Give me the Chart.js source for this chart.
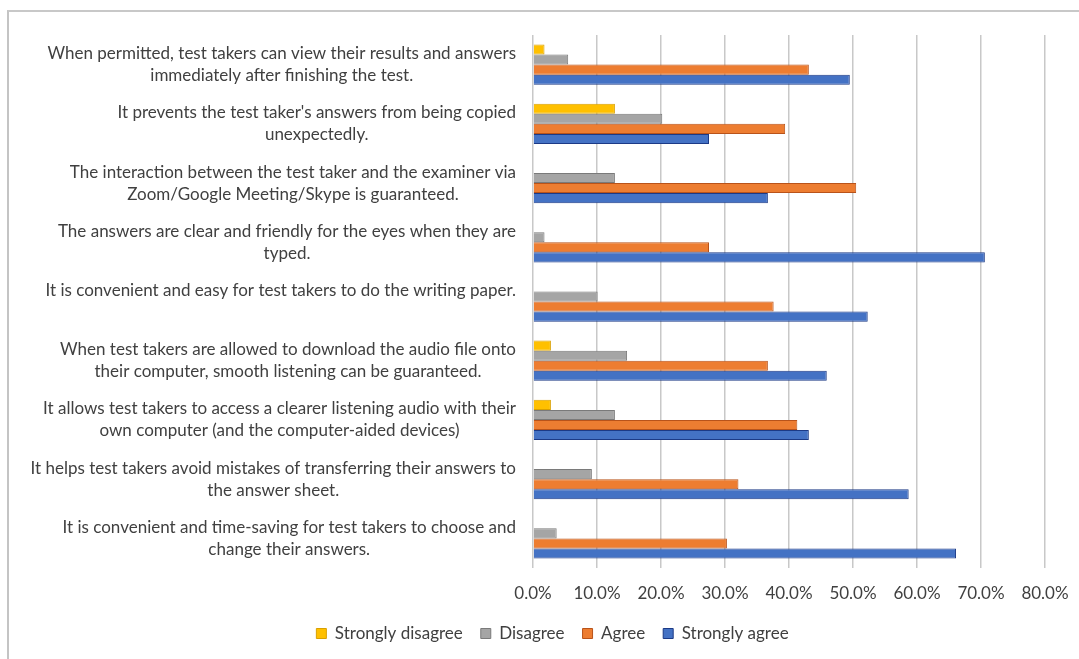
<!DOCTYPE html>
<html>
<head>
<meta charset="utf-8">
<title>Test takers' opinions</title>
<script src="https://cdn.jsdelivr.net/npm/chart.js@4.4.1/dist/chart.umd.min.js"></script>
<style>
  html, body { margin: 0; padding: 0; background: #fff; overflow: hidden; }
  #wrap { position: relative; width: 1079px; height: 659px; }
  #frame {
    position: absolute; left: 7px; top: 10px; width: 1100px; height: 700px;
    border-left: 2px solid #c4c4c4; border-top: 2px solid #c8c8c8;
    pointer-events: none;
  }
  canvas { position: absolute; left: 0; top: 0; }
</style>
</head>
<body>
<div id="wrap">
  <canvas id="opinionChart" width="1079" height="659"></canvas>
  <div id="frame"></div>
</div>
<script>
// statements, top to bottom, already split into the lines they are printed on
const statements = [
  ['When permitted, test takers can view their results and answers', 'immediately after finishing the test.'],
  ["It prevents the test taker's answers from being copied", 'unexpectedly.'],
  ['The interaction between the test taker and the examiner via', 'Zoom/Google Meeting/Skype is guaranteed.'],
  ['The answers are clear and friendly for the eyes when they are', 'typed.'],
  ['It is convenient and easy for test takers to do the writing paper.'],
  ['When test takers are allowed to download the audio file onto', 'their computer, smooth listening can be guaranteed.'],
  ['It allows test takers to access a clearer listening audio with their', 'own computer (and the computer-aided devices)'],
  ['It helps test takers avoid mistakes of transferring their answers to', 'the answer sheet.'],
  ['It is convenient and time-saving for test takers to choose and', 'change their answers.']
]

// percentages per statement
const stronglyDisagree = [1.8, 12.8, 0, 0, 0, 2.8, 2.8, 0, 0]
const disagree         = [5.5, 20.2, 12.8, 1.8, 10.1, 14.7, 12.8, 9.2, 3.7]
const agree            = [43.1, 39.4, 50.5, 27.5, 37.6, 36.7, 41.3, 32.1, 30.3]
const stronglyAgree    = [49.5, 27.5, 36.7, 70.6, 52.3, 45.9, 43.1, 58.7, 66.1]

const xTicks = [0, 10, 20, 30, 40, 50, 60, 70, 80]

const textColor = '#404040'
const fontFamily = 'Lato, "Open Sans", sans-serif'
const fontSize = 17

// category labels drawn by hand: right-aligned block, each line centred in it
const wrappedLabels = {
    id: 'wrappedLabels',
    afterDraw(chart) {
        const { ctx, chartArea } = chart
        const y = chart.scales.y
        const right = chartArea.left - 17
        ctx.save()
        ctx.font = fontSize + 'px ' + fontFamily
        ctx.fillStyle = textColor
        ctx.textAlign = 'center'
        ctx.textBaseline = 'middle'
        statements.forEach((lines, i) => {
            const yc = y.getPixelForValue(i)
            const w = Math.max(...lines.map(l => ctx.measureText(l).width))
            lines.forEach((line, j) => {
                ctx.fillText(line, right - w / 2, yc - 11 + 22 * j)
            })
        })
        ctx.restore()
    }
}

const bar = (label, data, fill, edge) => ({
    label,
    data,
    backgroundColor: fill,
    borderColor: edge,
    borderWidth: 1,
    barPercentage: 1,
    categoryPercentage: 0.68
})

new Chart(document.getElementById('opinionChart'), {
    type: 'bar',
    data: {
        labels: statements.map(l => l.join(' ')),
        datasets: [
            bar('Strongly disagree', stronglyDisagree, '#ffc000', '#d9a000'),
            bar('Disagree', disagree, '#a5a5a5', '#7a7a7a'),
            bar('Agree', agree, '#ed7d31', '#b9531a'),
            bar('Strongly agree', stronglyAgree, '#4472c4', '#1c3a86')
        ]
    },
    options: {
        indexAxis: 'y',
        responsive: false,
        animation: false,
        layout: { padding: { top: 35, left: 26, right: 0, bottom: 7 } },
        scales: {
            x: {
                min: 0,
                max: 80,
                afterBuildTicks: s => { s.ticks = xTicks.map(v => ({ value: v })) },
                afterFit: s => { s.paddingRight = 34; s.height = 39 },
                grid: { color: '#c8c8c8', lineWidth: 1.5, drawTicks: false },
                border: { display: false },
                ticks: {
                    padding: 15,
                    color: textColor,
                    font: { family: fontFamily, size: fontSize },
                    callback: v => v.toFixed(1) + '%'
                }
            },
            y: {
                afterFit: s => { s.width = 507 },
                grid: { display: false },
                border: { display: false },
                ticks: { display: false }
            }
        },
        plugins: {
            legend: {
                position: 'bottom',
                labels: {
                    boxWidth: 10,
                    boxHeight: 10,
                    padding: 18,
                    color: textColor,
                    font: { family: fontFamily, size: fontSize }
                }
            },
            tooltip: { enabled: false }
        }
    },
    plugins: [wrappedLabels]
})
</script>
</body>
</html>
